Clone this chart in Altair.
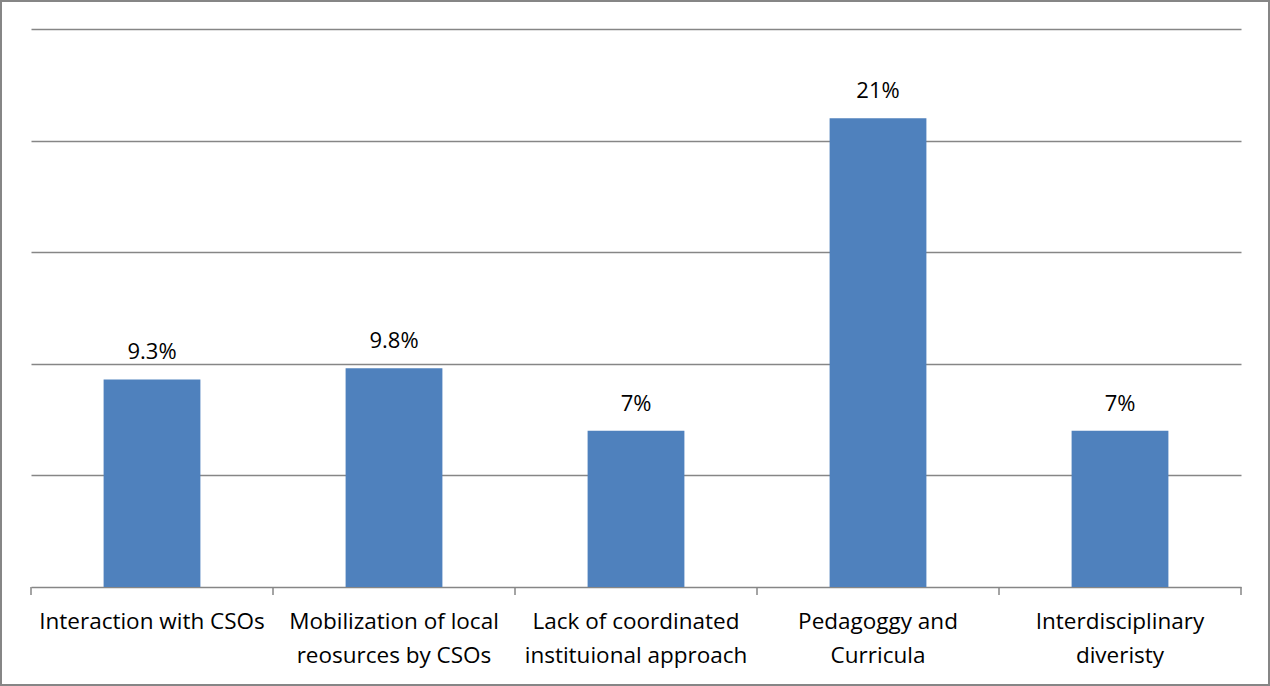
import altair as alt
import pandas as pd

categories = ["Interaction with CSOs", "Mobilization of local|reosurces by CSOs",
              "Lack of coordinated|instituional approach", "Pedagoggy and|Curricula",
              "Interdisciplinary|diveristy"]
values = [9.3, 9.8, 7, 21, 7]
value_labels = ["9.3%", "9.8%", "7%", "21%", "7%"]

df = pd.DataFrame({"cat": categories, "val": values, "lab": value_labels})

FONT = "Open Sans"
W, H = 1210, 558
GRAY = "#868686"
HALF_GAP = 0.3 * W / len(categories)

x = alt.X("cat:N", sort=categories, title=None,
          scale=alt.Scale(paddingInner=0.6, paddingOuter=0.3),
          axis=alt.Axis(labelExpr="split(datum.label, '|')", labelAngle=0,
                        labelFont=FONT, labelFontSize=22.5, labelColor="#000000",
                        labelLineHeight=34, labelPadding=23, ticks=False,
                        domainColor=GRAY, domainWidth=1.5, grid=False, labelLimit=300))
y = alt.Y("val:Q", title=None,
          scale=alt.Scale(domain=[0, 25], nice=False),
          axis=alt.Axis(values=[5, 10, 15, 20, 25], labels=False, ticks=False, domain=False,
                        grid=True, gridColor=GRAY, gridWidth=1.5))

bars = alt.Chart(df).mark_bar(color="#4F81BD").encode(x=x, y=y)
text = alt.Chart(df).mark_text(font=FONT, fontSize=22, color="#000000", dy=-27).encode(
    x=x, y=y, text="lab:N")

ticks_left = alt.Chart(df).mark_rule(color=GRAY, strokeWidth=1.5, xOffset=-HALF_GAP).encode(
    x=alt.X("cat:N", sort=categories, bandPosition=0),
    y=alt.value(H), y2=alt.value(H + 8))
ticks_right = alt.Chart(df.tail(1)).mark_rule(color=GRAY, strokeWidth=1.5, xOffset=HALF_GAP).encode(
    x=alt.X("cat:N", sort=categories, bandPosition=1),
    y=alt.value(H), y2=alt.value(H + 8))

border = alt.Chart(pd.DataFrame({"a": [0]})).mark_rect(
    fill=None, stroke=GRAY, strokeWidth=2).encode(
    x=alt.value(-30), x2=alt.value(1238), y=alt.value(-28), y2=alt.value(656))

chart = alt.layer(bars, text, ticks_left, ticks_right, border).properties(
    width=W, height=H,
    autosize=alt.AutoSizeParams(type="none"),
    padding={"left": 31, "top": 29, "right": 29, "bottom": 99},
    background="white",
).configure_view(stroke=None)

chart.save("out.html", embed_options={"renderer": "svg", "actions": False})
